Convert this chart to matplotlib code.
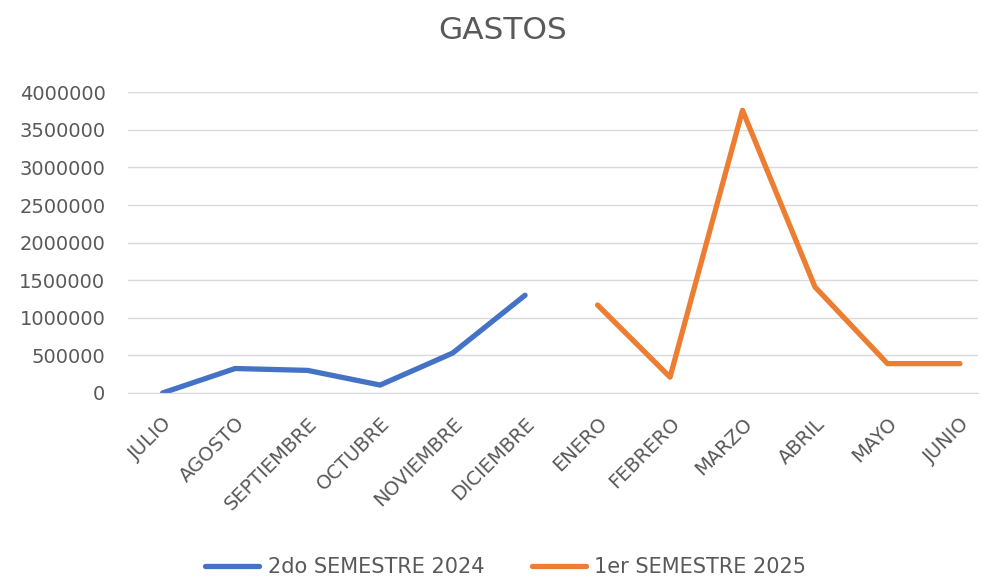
import matplotlib.pyplot as plt

meses = ["JULIO", "AGOSTO", "SEPTIEMBRE", "OCTUBRE", "NOVIEMBRE", "DICIEMBRE",
         "ENERO", "FEBRERO", "MARZO", "ABRIL", "MAYO", "JUNIO"]
semestre_2024 = [0, 325000, 300000, 105000, 530000, 1300000]
semestre_2025 = [1170000, 210000, 3760000, 1410000, 390000, 390000]
y_ticks = [0, 500000, 1000000, 1500000, 2000000, 2500000, 3000000, 3500000, 4000000]

gray = "#595959"
plt.rcParams["font.family"] = ["DejaVu Sans"]

fig = plt.figure(figsize=(9.82, 5.77), dpi=100)
ax = fig.add_axes([0.130, 0.319, 0.866, 0.521])

x1 = list(range(0, 6))
x2 = list(range(6, 12))
ax.plot(x1, semestre_2024, color="#4472C4", lw=3.8, solid_capstyle="round",
        solid_joinstyle="round", label="2do SEMESTRE 2024")
ax.plot(x2, semestre_2025, color="#ED7D31", lw=3.8, solid_capstyle="round",
        solid_joinstyle="round", label="1er SEMESTRE 2025")

ax.set_xlim(-0.483, 11.25)
ax.set_ylim(0, 4000000)
ax.set_yticks(y_ticks)
ax.set_yticklabels([str(v) for v in y_ticks])
ax.set_xticks(range(len(meses)))
ax.set_xticklabels(meses, rotation=45, ha="right", va="top", rotation_mode="anchor")

ax.grid(axis="y", color="#d9d9d9", lw=1)
ax.set_axisbelow(True)
for s in ["top", "right", "left"]:
    ax.spines[s].set_visible(False)
ax.spines["bottom"].set_color("#d9d9d9")
ax.tick_params(length=0, labelsize=14, colors=gray)
ax.tick_params(axis="y", pad=16)
ax.tick_params(axis="x", pad=15)

fig.text(0.512, 0.948, "GASTOS", ha="center", va="center", fontsize=22.5, color=gray)

leg = fig.legend(loc="center", bbox_to_anchor=(0.515, 0.017), ncol=2, frameon=False,
                 fontsize=15, handlelength=2.6, columnspacing=2.3, handletextpad=0.4)
for t in leg.get_texts():
    t.set_color(gray)

plt.savefig("out.png", dpi=100)
